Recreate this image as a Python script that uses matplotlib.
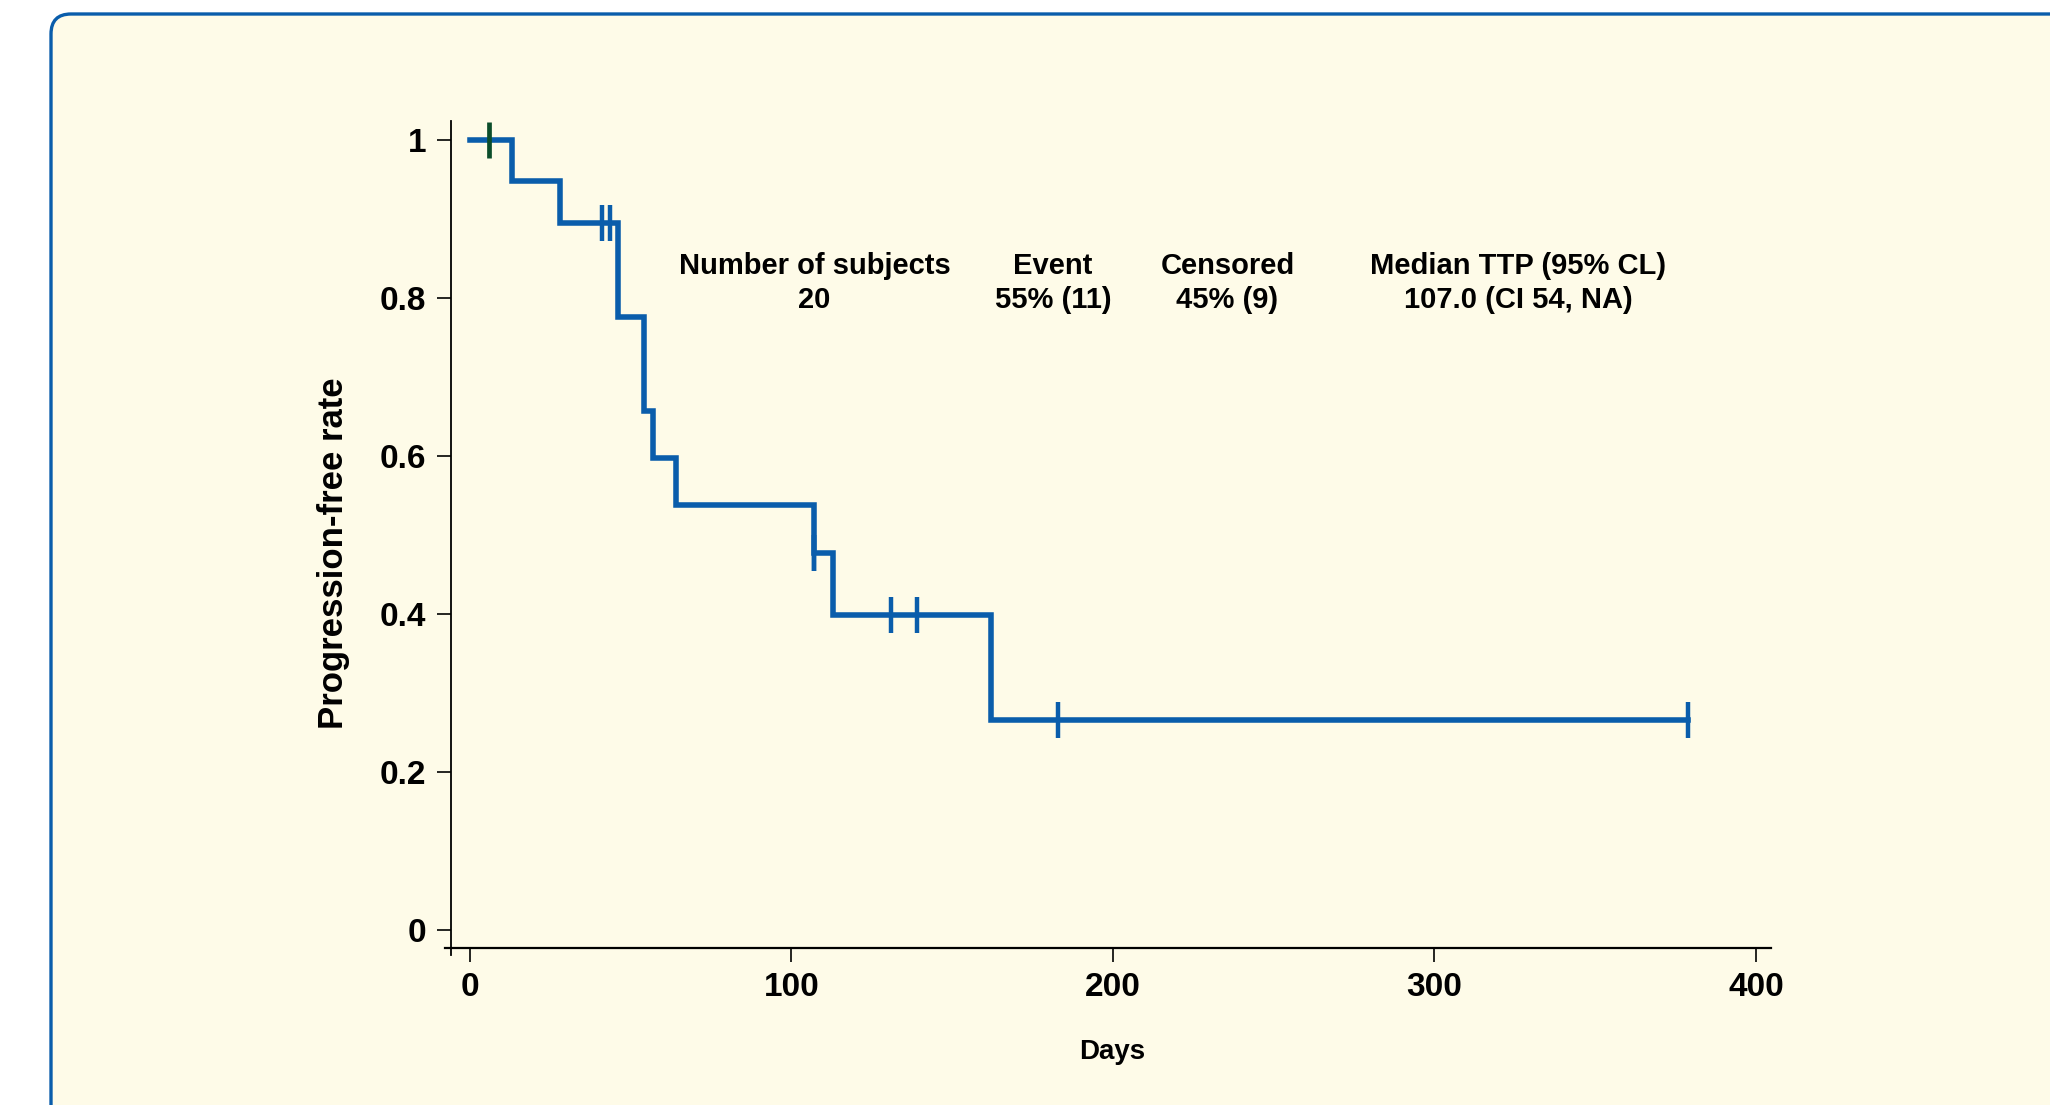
import numpy as np
import matplotlib
matplotlib.use("Agg")
import matplotlib.pyplot as plt
from matplotlib.patches import FancyBboxPatch
from matplotlib.transforms import IdentityTransform

# Kaplan-Meier steps
event_days = [0, 13, 28, 46, 54, 57, 64, 107, 113, 162, 379]
pfs_rate = [1.0, 0.947, 0.895, 0.776, 0.656, 0.597, 0.537, 0.477, 0.398, 0.265, 0.265]

# censored subjects (first one drawn green in the original)
censor_days = [6, 41, 43.5, 107, 107, 131, 139, 183, 379]

header_titles = ["Number of subjects", "Event", "Censored", "Median TTP (95% CL)"]
header_values = ["20", "55% (11)", "45% (9)", "107.0 (CI 54, NA)"]
header_x = [107.2, 181.4, 235.6, 326.0]

x_ticks = [0, 100, 200, 300, 400]
y_ticks = [0, 0.2, 0.4, 0.6, 0.8, 1]
y_ticklabels = ["0", "0.2", "0.4", "0.6", "0.8", "1"]

BLUE = "#0a5dab"
GREEN = "#0b4d2a"
CREAM = "#fefbe8"

plt.rcParams["font.family"] = ["Liberation Sans", "DejaVu Sans"]
plt.rcParams["font.weight"] = "bold"

fig = plt.figure(figsize=(20.5, 11.05), dpi=100, facecolor="white")

# rounded cream panel running off the right/bottom edge
panel = FancyBboxPatch((51, -60), 2100, 1105 - 14 + 60,
                       boxstyle="round,pad=0,rounding_size=20",
                       transform=IdentityTransform(),
                       facecolor=CREAM, edgecolor=BLUE, linewidth=2.4, zorder=-10)
fig.patches.append(panel)

ax = fig.add_axes([451 / 2050, 1 - 948 / 1105, 1320 / 2050, 827 / 1105])
ax.set_facecolor("none")
ax.set_zorder(5)

ax.step(event_days, pfs_rate, where="post", color=BLUE, lw=4.0,
        solid_joinstyle="miter", solid_capstyle="projecting", zorder=3)

# censor ticks sit on the curve
idx = np.searchsorted(event_days, censor_days, side="right") - 1
censor_rate = np.array(pfs_rate)[idx]
ax.plot(censor_days[1:], censor_rate[1:], ls="none", marker="|", ms=26, mew=3.2,
        color=BLUE, zorder=4)
ax.plot(censor_days[:1], censor_rate[:1], ls="none", marker="|", ms=26, mew=3.4,
        color=GREEN, zorder=4)

for x, title, val in zip(header_x, header_titles, header_values):
    ax.text(x, 0.8299, title, ha="center", va="baseline", fontsize=21, fontweight="bold")
    ax.text(x, 0.7868, val, ha="center", va="baseline", fontsize=21, fontweight="bold")

ax.set_xlim(-5.9, 404.7)
ax.set_ylim(-0.0233, 1.0235)
ax.set_xticks(x_ticks)
ax.set_yticks(y_ticks)
ax.set_yticklabels(y_ticklabels)

for s in ["top", "right"]:
    ax.spines[s].set_visible(False)
ax.spines["left"].set_linewidth(1.3)
ax.spines["bottom"].set_linewidth(1.6)
ax.spines["bottom"].set_bounds(-7.8, 404.7)
ax.spines["left"].set_bounds(-0.032, 1.0235)

ax.tick_params(axis="both", direction="out", length=10, width=1.2, labelsize=24, colors="black")
ax.tick_params(axis="y", pad=8)
ax.tick_params(axis="x", pad=7)

ax.set_xlabel("Days", fontsize=20, fontweight="bold")
ax.set_ylabel("Progression-free rate", fontsize=25, fontweight="bold")
ax.xaxis.set_label_coords(0.5008, -0.110)
ax.yaxis.set_label_coords(-0.0765, 0.4776)

fig.savefig("out.png", dpi=100, facecolor="white")
